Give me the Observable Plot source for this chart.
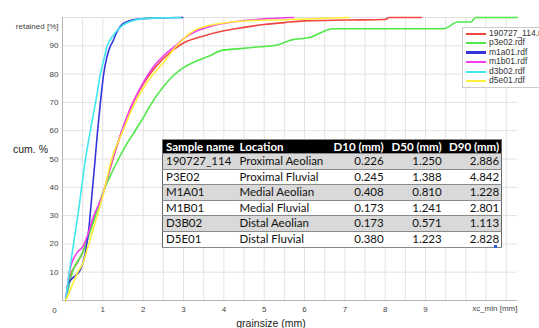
<!DOCTYPE html>
<html>
<head>
<meta charset="utf-8">
<script src="https://cdn.jsdelivr.net/npm/d3@7"></script>
<script src="https://cdn.jsdelivr.net/npm/@observablehq/plot@0.6"></script>
<style>
  html, body { margin: 0; padding: 0; background: #fff; overflow: hidden; }
  #wrap { position: relative; width: 539px; height: 328px; overflow: hidden; font-family: "Liberation Sans", Arial, sans-serif; }
  #chart { position: absolute; left: 0; top: 0; }
  .lbl { position: absolute; color: #222; font-size: 10.5px; white-space: nowrap; }
  #legend { position: absolute; left: 462px; top: 27px; width: 90px; height: 61px; background: #fff; border: 1px solid #ccc; box-sizing: border-box; padding-top: 1px; }
  #legend .row { position: relative; height: 9.4px; line-height: 9.4px; font-size: 8.5px; color: #333; }
  #legend .sw { position: absolute; left: 3px; top: 4px; width: 20px; height: 2px; }
  #legend .tx { position: absolute; left: 26px; top: 0; }
  #tbl { position: absolute; left: 162px; top: 139px; border-collapse: collapse; table-layout: fixed; font-family: Lato, "Open Sans", sans-serif; font-size: 11.5px; color: #111; }
  #tbl td, #tbl th { padding: 0 2px 0 3px; border-top: 1px solid #8a8a8a; border-bottom: 1px solid #8a8a8a; white-space: nowrap; overflow: hidden; }
  #tbl th { background: #000; color: #fff; font-weight: bold; height: 13px; line-height: 13px; text-align: left; }
  #tbl td { height: 14.6px; line-height: 14.6px; }
  #tbl tr.g td { background: #d9d9d9; }
  #tbl tr.w td { background: #fff; }
  #tbl .n { text-align: right; }
  #tbl tr td:first-child, #tbl tr th:first-child { border-left: 1px solid #666; }
  #tbl tr td:last-child, #tbl tr th:last-child { border-right: 1px solid #666; }
  #handle { position: absolute; left: 494px; top: 245px; width: 3px; height: 3px; background: #2a5bd7; }
</style>
</head>
<body>
<div id="wrap">
  <div id="chart"></div>
  <div class="lbl" style="left:13px; top:143px;">cum. %</div>
  <div class="lbl" id="xlab" style="left:0; width:542px; text-align:center; top:317px;">grainsize (mm)</div>
  <div id="legend"></div>
  <table id="tbl"></table>
  <div id="handle"></div>
</div>
<script>
// ---- Series ----
const seriesNames = ["190727_114.rdf", "p3e02.rdf", "m1a01.rdf", "m1b01.rdf", "d3b02.rdf", "d5e01.rdf"];
const legendLabels = ["190727_114.rdf", "p3e02.rdf", "m1a01.rdf", "m1b01.rdf", "d3b02.rdf", "d5e01.rdf"];
const seriesColors = ["#f0463f", "#52e84a", "#3434dc", "#f23ef0", "#40e8ee", "#fdee3a"];

const redX = [0.08, 0.2, 0.35, 0.5, 0.62, 0.75, 1.0, 1.25, 1.5, 1.75, 2.0, 2.25, 2.5, 2.75, 3.0, 3.5, 4.0, 4.5, 5.0, 5.5, 6.0, 7.0, 8.0, 8.1, 8.9];
const redY = [0, 9, 13, 17, 22, 28, 37.5, 50, 61, 70, 76.5, 81.5, 85.5, 88.6, 91, 93.5, 95.3, 96.5, 97.5, 98.2, 98.8, 99.1, 99.3, 100, 100];

const greenX = [0.08, 0.245, 0.5, 0.75, 1.0, 1.2, 1.39, 1.6, 1.8, 2.0, 2.2, 2.5, 2.75, 3.0, 3.35, 3.67, 3.92, 4.4, 4.84, 5.33, 5.5, 5.66, 6.15, 6.4, 6.7, 9.45, 9.8, 10.12, 10.25, 11.28];
const greenY = [0, 10, 17, 27, 38, 44.5, 50, 55.5, 60, 64.5, 69.5, 75.5, 79.5, 82.3, 84.8, 86.6, 88.3, 89, 89.6, 90.3, 91.2, 92, 93, 94.6, 96, 96, 98.4, 98.4, 100, 100];

const blueX = [0.08, 0.15, 0.32, 0.41, 0.5, 0.58, 0.65, 0.74, 0.81, 0.87, 0.94, 1.02, 1.1, 1.19, 1.23, 1.32, 1.44, 1.6, 1.8, 2.0, 2.5, 2.98];
const blueY = [0, 6, 8.8, 10, 13, 18, 25, 39, 50, 60, 70, 80, 86, 90, 91, 94, 97, 98.5, 99.3, 99.6, 99.9, 100];

const magentaX = [0.08, 0.17, 0.25, 0.37, 0.5, 0.62, 0.75, 1.0, 1.24, 1.5, 1.75, 2.0, 2.25, 2.5, 2.8, 3.0, 3.35, 3.7, 4.17, 4.5, 5.0, 5.73];
const magentaY = [0, 10, 14, 17, 19, 23, 29, 37.5, 50, 61, 70, 77, 82.5, 86.5, 90, 92.5, 95.4, 97, 98.3, 98.9, 99.5, 100];

const cyanX = [0.08, 0.17, 0.2, 0.4, 0.57, 0.69, 0.82, 0.94, 1.04, 1.11, 1.2, 1.3, 1.49, 1.7, 2.0, 2.5, 2.93];
const cyanY = [0, 10, 13, 32, 50, 60, 70, 80, 86, 90, 92.5, 94.5, 97.2, 98.7, 99.6, 99.9, 100];

const yellowX = [0.08, 0.2, 0.38, 0.5, 0.65, 0.8, 1.0, 1.22, 1.5, 1.75, 2.0, 2.25, 2.5, 2.83, 2.93, 3.35, 4.17, 4.66, 5.5, 6.3, 7.1];
const yellowY = [0, 4, 10, 13, 20, 27, 37, 50, 60, 68.5, 75, 80, 84, 90, 91.5, 96, 98.4, 98.9, 99.2, 99.6, 100];

// ---- Axis ticks / labels ----
const xTickLabels = [1, 2, 3, 4, 5, 6, 7, 8, 9];
const yTickLabels = [10, 20, 30, 40, 50, 60, 70, 80, 90];
const xGrid = d3.range(0, 11.01, 0.5);
const yGrid = d3.range(0, 101, 10);
const xDomain = [0, 11.28];
const xEndLabel = "xc_min [mm]";
const yEndLabel = "retained [%]";

// ---- Table ----
const tableHeader = ["Sample name", "Location", "D10 (mm)", "D50 (mm)", "D90 (mm)"];
const sampleNames = ["190727_114", "P3E02", "M1A01", "M1B01", "D3B02", "D5E01"];
const locations = ["Proximal Aeolian", "Proximal Fluvial", "Medial Aeolian", "Medial Fluvial", "Distal Aeolian", "Distal Fluvial"];
const d10 = ["0.226", "0.245", "0.408", "0.173", "0.173", "0.380"];
const d50 = ["1.250", "1.388", "0.810", "1.241", "0.571", "1.223"];
const d90 = ["2.886", "4.842", "1.228", "2.801", "1.113", "2.828"];

const xs = [redX, greenX, blueX, magentaX, cyanX, yellowX];
const ys = [redY, greenY, blueY, magentaY, cyanY, yellowY];
const rows = [];
seriesNames.forEach((s, i) => xs[i].forEach((x, j) => rows.push({sample: s, x, y: ys[i][j]})));

const plot = Plot.plot({
  width: 539,
  height: 328,
  marginLeft: 62,
  marginTop: 17,
  marginBottom: 28,
  marginRight: 22,
  style: {fontFamily: "Liberation Sans, Arial, sans-serif", fontSize: "8px", background: "transparent"},
  x: {domain: xDomain},
  y: {domain: [0, 100]},
  color: {domain: seriesNames, range: seriesColors},
  marks: [
    Plot.gridX(xGrid, {stroke: "#e2e2e2", strokeOpacity: 1}),
    Plot.gridY(yGrid, {stroke: "#e2e2e2", strokeOpacity: 1}),
    Plot.ruleX([0], {stroke: "#b5b5b5"}),
    Plot.ruleY([0], {stroke: "#b5b5b5"}),
    Plot.axisY(yTickLabels, {tickSize: 0, tickPadding: 4, fill: "#444", label: null}),
    Plot.axisX(xTickLabels, {tickSize: 0, tickPadding: 6, fill: "#444", label: null}),
    Plot.text([0], {x: d => d, y: 0, text: d => String(d), dx: -8, dy: 10, fill: "#444"}),
    Plot.text([xEndLabel], {frameAnchor: "bottom-right", text: d => d, dy: 10, textAnchor: "end", fill: "#444"}),
    Plot.text([yEndLabel], {frameAnchor: "top-left", text: d => d, dx: -4, dy: 6, textAnchor: "end", fill: "#444"}),
    Plot.line(rows, {x: "x", y: "y", z: "sample", stroke: "sample", curve: "monotone-x", strokeWidth: 1.6})
  ]
});
document.getElementById("chart").appendChild(plot);

// legend
const leg = document.getElementById("legend");
legendLabels.forEach((name, i) => {
  const r = document.createElement("div");
  r.className = "row";
  const sw = document.createElement("div");
  sw.className = "sw";
  sw.style.background = seriesColors[i];
  if (i === 2) { sw.style.height = "3px"; sw.style.top = "3.5px"; }
  const tx = document.createElement("div");
  tx.className = "tx";
  tx.textContent = name;
  r.appendChild(sw); r.appendChild(tx);
  leg.appendChild(r);
});

// table
const colW = [74, 94, 51, 58, 58];
const tbl = document.getElementById("tbl");
const cg = document.createElement("colgroup");
colW.forEach(w => { const c = document.createElement("col"); c.style.width = w + "px"; cg.appendChild(c); });
tbl.appendChild(cg);
const hr = document.createElement("tr");
tableHeader.forEach((h, i) => {
  const th = document.createElement("th");
  th.textContent = h;
  if (i >= 2) th.className = "n";
  hr.appendChild(th);
});
tbl.appendChild(hr);
sampleNames.forEach((s, i) => {
  const tr = document.createElement("tr");
  tr.className = i % 2 === 0 ? "g" : "w";
  [s, locations[i], d10[i], d50[i], d90[i]].forEach((v, j) => {
    const td = document.createElement("td");
    td.textContent = v;
    if (j >= 2) td.className = "n";
    tr.appendChild(td);
  });
  tbl.appendChild(tr);
});
</script>
</body>
</html>
